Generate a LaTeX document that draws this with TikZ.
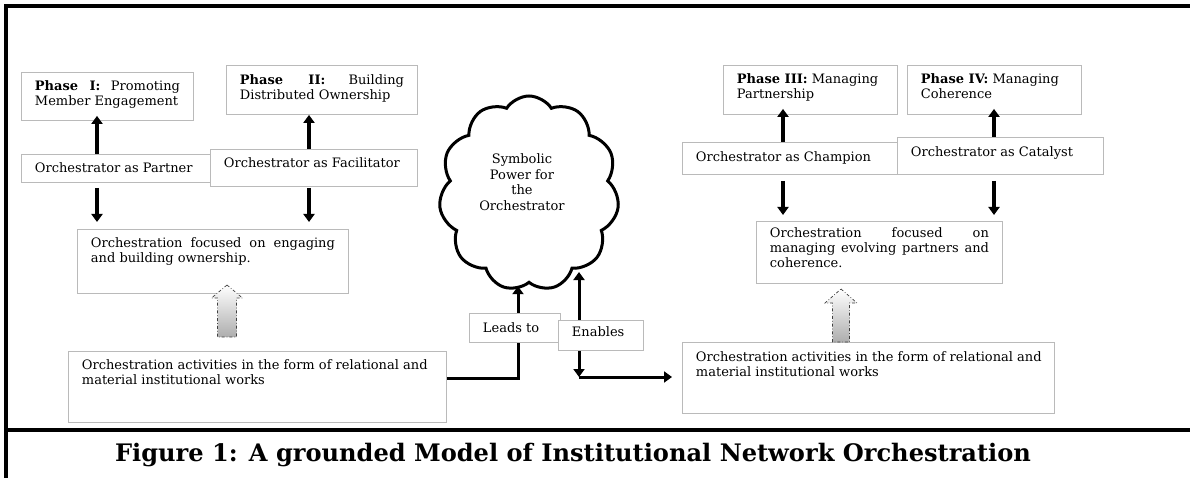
\documentclass[tikz,border=0pt]{standalone}
\usepackage{fontspec}
\setmainfont{DejaVu Serif}
\usetikzlibrary{arrows.meta,shapes.symbols}
\newcommand\jl[1]{\makebox[\linewidth][s]{#1}}
\newcommand\bc[4]{\parbox[c][#2][t]{#1}{\rule{0pt}{#3}#4}}
\tikzset{
  bx/.style={draw=black!27, line width=0.9pt, fill=white, inner xsep=13.5pt, inner ysep=0pt,
    anchor=north west, font=\fontsize{13}{15}\selectfont},
  arr/.style={line width=3.6pt, -{Triangle[length=8pt,width=11pt]}},
  arrb/.style={line width=3pt, {Triangle[length=8pt,width=11pt]}-{Triangle[length=8pt,width=11pt]}},
  lnk/.style={line width=3pt, -{Triangle[length=8pt,width=11pt]}},
  frame/.style={line width=3.2pt},
  blockarr/.style={draw=black!75, line width=0.7pt, dash dot, top color=white, bottom color=black!32},
  cloudshape/.style={cloud, cloud puffs=11, cloud puff arc=115, cloud ignores aspect, draw,
    line width=3pt, fill=white, minimum width=180pt, minimum height=195pt, inner sep=0pt},
}
\begin{document}
\begin{tikzpicture}[x=1pt,y=-1pt]
\useasboundingbox (0,0) rectangle (1190,478);
% frame
\coordinate (ftl) at (6,6);
\coordinate (ftr) at (1190,6);
\coordinate (fbl) at (6,478);
\coordinate (fml) at (6,430);
\coordinate (fmr) at (1190,430);
\draw[frame] (ftr) -- (ftl) -- (fbl);
\draw[frame] (fml) -- (fmr);
% title
\node[font=\fontsize{24.1}{28}\selectfont\bfseries, anchor=base, inner sep=0pt] (title) at (573,461)
  {Figure 1: A grounded Model of Institutional Network Orchestration};

% cloud
\node[cloudshape] (cloud) at (529,193.5) {};
\node[font=\fontsize{13}{15.5}\selectfont, align=center, inner sep=0pt] (cloudtxt) at (522,182)
  {Symbolic\\Power for\\the\\Orchestrator};

% left side boxes
\node[bx] (phase1) at (21,72) {\bc{145pt}{48pt}{18.5pt}{\jl{\textbf{Phase I:} Promoting}\\Member Engagement}};
\node[bx] (phase2) at (226,65) {\bc{164pt}{49pt}{19.5pt}{\jl{\textbf{Phase II:} Building}\\Distributed Ownership}};
\node[bx] (partner) at (21,154) {\bc{182pt}{28pt}{18.5pt}{Orchestrator as Partner}};
\node[bx] (facil) at (210,149) {\bc{180pt}{37pt}{18.5pt}{Orchestrator as Facilitator}};
\node[bx] (focus1) at (77,229) {\bc{244pt}{64pt}{18.5pt}{\jl{Orchestration focused on engaging}\\and building ownership.}};
\node[bx] (act1) at (68,351) {\bc{351pt}{71pt}{18.5pt}{\mbox{Orchestration activities in the form of relational and}\\material institutional works}};

% right side boxes
\node[bx] (phase3) at (723,65) {\bc{147pt}{49pt}{18.5pt}{\mbox{\textbf{Phase III:} Managing}\\Partnership}};
\node[bx] (phase4) at (907,65) {\bc{147pt}{49pt}{18.5pt}{\mbox{\textbf{Phase IV:} Managing}\\Coherence}};
\node[bx] (champion) at (682,142) {\bc{201pt}{32pt}{19.5pt}{Orchestrator as Champion}};
\node[bx] (catalyst) at (897,137) {\bc{179pt}{37pt}{19.5pt}{Orchestrator as Catalyst}};
\node[bx] (focus2) at (756,221) {\bc{219pt}{62pt}{16.5pt}{\jl{Orchestration focused on}\\\jl{managing evolving partners and}\\coherence.}};
\node[bx] (act2) at (682,342) {\bc{345pt}{71pt}{19.5pt}{\mbox{Orchestration activities in the form of relational and}\\material institutional works}};

% column x positions
\coordinate (c1) at (97,0);
\coordinate (c2) at (309,0);
\coordinate (c3) at (783,0);
\coordinate (c4) at (994,0);

% vertical arrows
\draw[arr, shorten >=-5pt] (partner.north -| c1) -- (phase1.south -| c1);
\draw[arr] (facil.north -| c2) -- (phase2.south -| c2);
\draw[arr, shorten <=5pt, shorten >=7pt] (partner.south -| c1) -- (focus1.north -| c1);
\draw[arr, shorten <=1pt, shorten >=7pt] (facil.south -| c2) -- (focus1.north -| c2);
\draw[arr, shorten >=-6pt] (champion.north -| c3) -- (phase3.south -| c3);
\draw[arr, shorten >=-6pt] (catalyst.north -| c4) -- (phase4.south -| c4);
\draw[arr, shorten <=6pt, shorten >=6pt] (champion.south -| c3) -- (focus2.north -| c3);
\draw[arr, shorten <=6pt, shorten >=6pt] (catalyst.south -| c4) -- (focus2.north -| c4);

% block (dashed) arrows
\coordinate (b1) at (227,337);
\path[blockarr] (b1) ++(0,-52) -- ++(15.5,13) -- ++(-6,0) -- ++(0,39) -- ++(-19,0) -- ++(0,-39) -- ++(-6,0) -- cycle;
\coordinate (b2) at (841,342);
\path[blockarr] (b2) ++(0,-53) -- ++(16,14) -- ++(-7.5,0) -- ++(0,39) -- ++(-17,0) -- ++(0,-39) -- ++(-7.5,0) -- cycle;

% leads to / enables connectors
\coordinate (lc) at (518,378);
\draw[lnk, shorten >=2pt] (act1.east |- lc) -- (lc) -- (lc |- cloud.south);
\coordinate (ec) at (579,377);
\coordinate (et) at (579,272);
\draw[arrb] (et) -- (ec);
\draw[lnk, shorten >=10pt] (ec) -- (act2.west |- ec);

\node[bx] (leads) at (469,313) {\bc{64pt}{29pt}{19.5pt}{Leads to}};
\node[bx] (enables) at (558,320) {\bc{58pt}{30pt}{16.5pt}{Enables}};
\end{tikzpicture}
\end{document}
